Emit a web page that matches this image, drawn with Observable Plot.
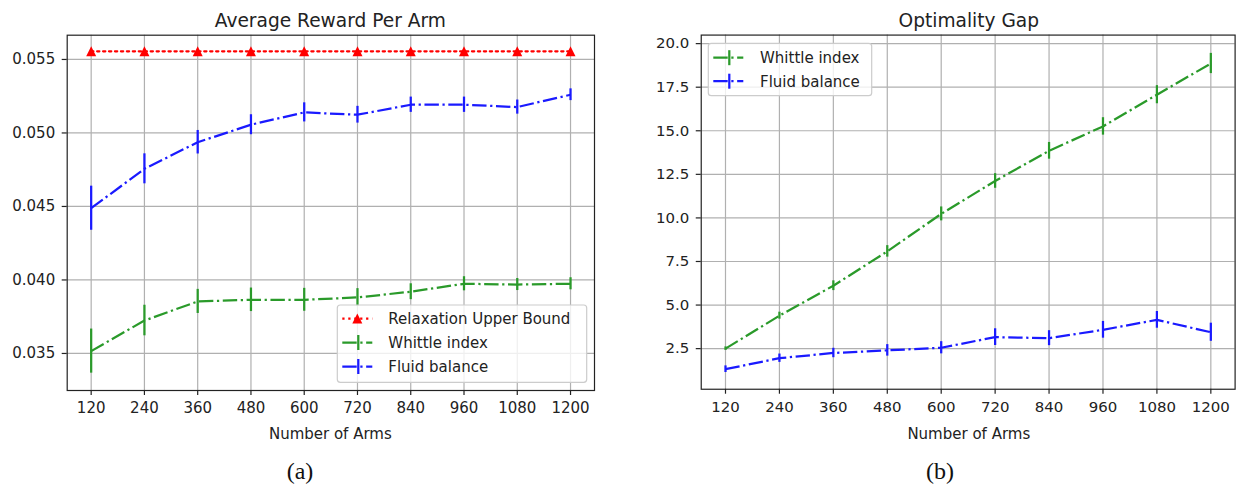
<!DOCTYPE html>
<html>
<head>
<meta charset="utf-8">
<script src="https://cdn.jsdelivr.net/npm/d3@7"></script>
<script src="https://cdn.jsdelivr.net/npm/@observablehq/plot@0.6"></script>
<style>
  html, body { margin: 0; padding: 0; background: #fff; }
  #wrap { position: relative; width: 1236px; height: 487px; overflow: hidden; background: #fff; }
  #left { position: absolute; left: 0; top: 0; }
  #right { position: absolute; left: 618px; top: 0; }
  #overlay { position: absolute; left: 0; top: 0; pointer-events: none; }
</style>
</head>
<body>
<div id="wrap">
  <div id="left"></div>
  <div id="right"></div>
  <svg id="overlay" width="1236" height="487"></svg>
</div>
<script>
// ---------------- data ----------------
const arms = [120, 240, 360, 480, 600, 720, 840, 960, 1080, 1200];

// Panel (a): Average Reward Per Arm
const upperBound       = [0.05555, 0.05555, 0.05555, 0.05555, 0.05555, 0.05555, 0.05555, 0.05555, 0.05555, 0.05555];
const whittleReward    = [0.03516, 0.03724, 0.03854, 0.03865, 0.03865, 0.03881, 0.03920, 0.03974, 0.03969, 0.03974];
const whittleRewardErr = [0.00150, 0.00104, 0.00082, 0.00080, 0.00078, 0.00060, 0.00054, 0.00048, 0.00041, 0.00041];
const fluidReward      = [0.04488, 0.04756, 0.04937, 0.05056, 0.05140, 0.05124, 0.05192, 0.05192, 0.05176, 0.05260];
const fluidRewardErr   = [0.00150, 0.00102, 0.00080, 0.00068, 0.00065, 0.00057, 0.00052, 0.00052, 0.00048, 0.00040];

// Panel (b): Optimality Gap
const whittleGap       = [2.50, 4.39, 6.11, 8.08, 10.23, 12.12, 13.85, 15.25, 17.07, 18.86];
const whittleGapErr    = [0.10, 0.20, 0.28, 0.33, 0.40, 0.42, 0.48, 0.50, 0.52, 0.58];
const fluidGap         = [1.32, 1.95, 2.25, 2.40, 2.55, 3.16, 3.10, 3.58, 4.15, 3.44];
const fluidGapErr      = [0.19, 0.24, 0.27, 0.33, 0.35, 0.48, 0.43, 0.48, 0.48, 0.52];

const rewardTicks = [0.035, 0.040, 0.045, 0.050, 0.055];
const gapTicks = [2.5, 5.0, 7.5, 10.0, 12.5, 15.0, 17.5, 20.0];

const titles = ["Average Reward Per Arm", "Optimality Gap"];
const xLabel = "Number of Arms";
const captions = ["(a)", "(b)"];
const legendA = ["Relaxation Upper Bound", "Whittle index", "Fluid balance"];
const legendB = ["Whittle index", "Fluid balance"];

// ---------------- styles ----------------
const GREEN = "#2a9a2a";
const BLUE = "#1a1aff";
const RED = "#ff0000";
const DASHDOT = "14.4,3.6,2.25,3.6";
const DOTTED = "2.25,3.7";
const LW = 2.25;
const FONT = "DejaVu Sans";

const table = (vals, errs) => arms.map((a, i) => ({a, v: vals[i], lo: errs ? vals[i] - errs[i] : null, hi: errs ? vals[i] + errs[i] : null}));

const mplTriangle = {
  draw(context, size) {
    const h = Math.sqrt(size / Math.PI);
    context.moveTo(0, -h);
    context.lineTo(h, h);
    context.lineTo(-h, h);
    context.closePath();
  }
};

function errSeries(vals, errs, color) {
  const t = table(vals, errs);
  return [
    Plot.line(t, {x: "a", y: "v", stroke: color, strokeWidth: LW, strokeDasharray: DASHDOT, strokeLinecap: "butt"}),
    Plot.ruleX(t, {x: "a", y1: "lo", y2: "hi", stroke: color, strokeWidth: LW})
  ];
}

function base({width, marginLeft, marginRight, yDomain, yTicks, yFmt, marks}) {
  return Plot.plot({
    width, height: 450,
    marginLeft, marginRight, marginTop: 34.7, marginBottom: 60,
    style: {fontFamily: FONT, fontSize: "15px", color: "#222", background: "transparent", overflow: "visible"},
    x: {domain: [66, 1254]},
    y: {domain: yDomain},
    marks: [
      Plot.gridX(arms, {stroke: "#b0b0b0", strokeOpacity: 1, strokeWidth: 1.2}),
      Plot.gridY(yTicks, {stroke: "#b0b0b0", strokeOpacity: 1, strokeWidth: 1.2}),
      ...marks,
      Plot.frame({stroke: "#222", strokeWidth: 1.2}),
      Plot.axisX(arms, {tickSize: 5, tickPadding: 7, tickFormat: d => String(d), label: null, fontSize: 15, strokeWidth: 1.2}),
      Plot.axisY(yTicks, {tickSize: 5, tickPadding: 7, tickFormat: yFmt, label: null, fontSize: 15, strokeWidth: 1.2})
    ]
  });
}

const ub = table(upperBound);
const left = base({
  width: 610, marginLeft: 66.7, marginRight: 16,
  yDomain: [0.03248, 0.05665], yTicks: rewardTicks, yFmt: d3.format(".3f"),
  marks: [
    ...errSeries(whittleReward, whittleRewardErr, GREEN),
    ...errSeries(fluidReward, fluidRewardErr, BLUE),
    Plot.line(ub, {x: "a", y: "v", stroke: RED, strokeWidth: LW, strokeDasharray: DOTTED}),
    Plot.dot(ub, {x: "a", y: "v", symbol: mplTriangle, r: 5, fill: RED, stroke: "none"})
  ]
});
document.getElementById("left").appendChild(left);

const right = base({
  width: 620, marginLeft: 83, marginRight: 1.4,
  yDomain: [0.17, 20.49], yTicks: gapTicks, yFmt: d3.format(".1f"),
  marks: [
    ...errSeries(whittleGap, whittleGapErr, GREEN),
    ...errSeries(fluidGap, fluidGapErr, BLUE)
  ]
});
document.getElementById("right").appendChild(right);

// ---------------- overlay: titles, labels, captions, legends ----------------
const ov = d3.select("#overlay");
const leftCx = (66.7 + 594) / 2;
const rightCx = (701 + 1236.6) / 2;

function txt(x, y, s, opts = {}) {
  ov.append("text").attr("x", x).attr("y", y).attr("text-anchor", opts.anchor || "middle")
    .attr("font-family", opts.family || FONT).attr("font-size", opts.size || 15)
    .attr("fill", opts.fill || "#222").text(s);
}
txt(leftCx, 26.7, titles[0], {size: 18.6});
txt(rightCx, 26.7, titles[1], {size: 18.6});
txt(leftCx, 439, xLabel);
txt(rightCx, 439, xLabel);
txt(300, 479, captions[0], {family: "Liberation Serif", size: 24, fill: "#111"});
txt(940, 479, captions[1], {family: "Liberation Serif", size: 24, fill: "#111"});

function legend(x, y, w, h, rowYs, items, textX) {
  ov.append("rect").attr("x", x).attr("y", y).attr("width", w).attr("height", h).attr("rx", 3)
    .attr("fill", "rgba(255,255,255,0.8)").attr("stroke", "#cccccc").attr("stroke-width", 1.2);
  items.forEach((it, i) => {
    const cy = rowYs[i];
    const x0 = x + 5, x1 = x + 35, xm = (x0 + x1) / 2;
    if (it.type === "ub") {
      ov.append("line").attr("x1", x0).attr("x2", x1).attr("y1", cy).attr("y2", cy)
        .attr("stroke", it.color).attr("stroke-width", LW).attr("stroke-dasharray", DOTTED);
      ov.append("path").attr("d", `M${xm},${cy - 5}L${xm + 5},${cy + 5}L${xm - 5},${cy + 5}Z`).attr("fill", it.color);
    } else {
      ov.append("line").attr("x1", x0).attr("x2", x1).attr("y1", cy).attr("y2", cy)
        .attr("stroke", it.color).attr("stroke-width", LW).attr("stroke-dasharray", DASHDOT);
      ov.append("line").attr("x1", xm + 1).attr("x2", xm + 1).attr("y1", cy - 7.5).attr("y2", cy + 7.5)
        .attr("stroke", it.color).attr("stroke-width", LW);
    }
    txt(x + textX, cy + 5.4, it.label, {anchor: "start"});
  });
}
legend(337.3, 305, 249.4, 77.3, [318.5, 342.5, 366.5], [
  {type: "ub", color: RED, label: legendA[0]},
  {type: "err", color: GREEN, label: legendA[1]},
  {type: "err", color: BLUE, label: legendA[2]}
], 51);
legend(708.3, 43.3, 163.4, 52.4, [57.7, 81.2], [
  {type: "err", color: GREEN, label: legendB[0]},
  {type: "err", color: BLUE, label: legendB[1]}
], 51.7);
</script>
</body>
</html>
